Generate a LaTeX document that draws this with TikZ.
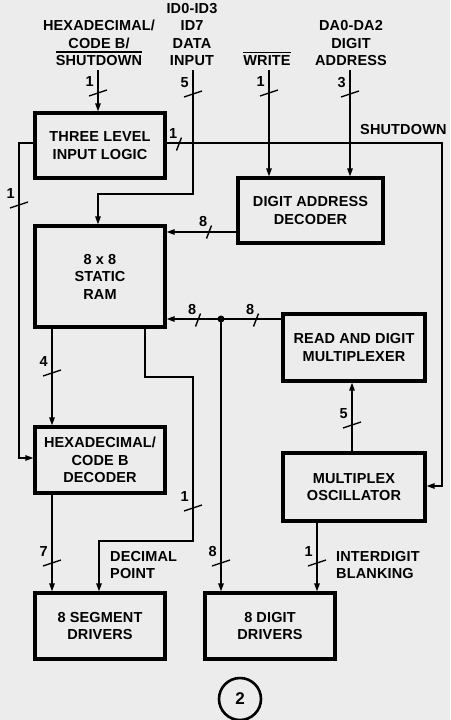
\documentclass[tikz,border=0pt]{standalone}
\usepackage{fontspec}
\newfontfamily\diafont{Liberation Sans}[LetterSpace=1]
\usetikzlibrary{arrows.meta,calc}
\definecolor{bgc}{RGB}{236,236,236}
\newcommand\ovl[1]{\vbox{\hrule height 1.3pt\kern 3pt\hbox{#1}}}
\begin{document}
\begin{tikzpicture}[x=1pt,y=-1pt,
  font=\diafont\bfseries\fontsize{14.5}{17.5}\selectfont,
  blk/.style={draw, line width=3.3pt, align=center, inner sep=0pt},
  lbl/.style={align=center, inner sep=0pt, anchor=south},
  sig/.style={line width=1.4pt, -{Triangle[length=8pt,width=5.5pt]}},
  ln/.style={line width=1.4pt},
  numlbl/.style={inner sep=0pt, anchor=south east},
  vbus/.pic={\draw[ln] (-9,3) -- (9,-3); \node[numlbl] at (-4,-6) {\tikzpictext};},
  hbus/.pic={\draw[ln] (-2.5,6.5) -- (2.5,-6.5); \node[numlbl] at (-1.5,-5.5) {\tikzpictext};},
]
\useasboundingbox (0,0) rectangle (450,720);
\fill[bgc] (0,0) rectangle (450,720);

% blocks
\node[blk, minimum width=130pt, minimum height=65pt] (tl) at (100,145.5) {THREE LEVEL\\INPUT LOGIC};
\node[blk, minimum width=145pt, minimum height=65pt] (dad) at (310.5,210.5) {DIGIT ADDRESS\\DECODER};
\node[blk, minimum width=130pt, minimum height=101pt] (ram) at (100,276.5) {8 x 8\\STATIC\\RAM};
\node[blk, minimum width=142pt, minimum height=67pt] (rdm) at (354,347.5) {READ AND DIGIT\\MULTIPLEXER};
\node[blk, minimum width=130pt, minimum height=66pt] (hex) at (100,460) {HEXADECIMAL/\\CODE B\\DECODER};
\node[blk, minimum width=142pt, minimum height=68pt] (osc) at (354,487) {MULTIPLEX\\OSCILLATOR};
\node[blk, minimum width=130pt, minimum height=66pt] (seg) at (100,626) {8 SEGMENT\\DRIVERS};
\node[blk, minimum width=130pt, minimum height=66pt] (dig) at (270,626) {8 DIGIT\\DRIVERS};

% top labels
\node[lbl] (t1) at (99,66) {HEXADECIMAL/\\CODE B/\\\ovl{SHUTDOWN}};
\node[lbl] (t2) at (192,66) {ID0-ID3\\ID7\\DATA\\INPUT};
\node[lbl] (t3) at (267,66) {\ovl{WRITE}};
\node[lbl] (t4) at (351,66) {DA0-DA2\\DIGIT\\ADDRESS};
\node[inner sep=0pt, anchor=south west] (sdl) at (360,135) {SHUTDOWN};
\node[inner sep=0pt, anchor=south west, align=left] (dpl) at (110,579) {DECIMAL\\POINT};
\node[inner sep=0pt, anchor=south west, align=left] (ibl) at (336,579) {INTERDIGIT\\BLANKING};

% coordinates
\coordinate (in1) at (98,70);
\coordinate (in2) at (193,70);
\coordinate (in3) at (269,70);
\coordinate (in4) at (350,70);
\coordinate (d1) at (193,194);
\coordinate (d2) at (98,194);
\coordinate (s1) at (442,143);
\coordinate (s2) at (442,486);
\coordinate (l1) at (19,143);
\coordinate (l2) at (19,458);
\coordinate (r1) at (200,232);
\coordinate (r2) at (221,319);
\coordinate (c1) at (52,400);
\coordinate (p1) at (145,377);
\coordinate (p2) at (193,377);
\coordinate (p3) at (193,541);
\coordinate (p4) at (99,541);
\coordinate (c2) at (352,420);
\coordinate (c3) at (317,560);

% connectors
\draw[sig] (in1) -- (in1 |- tl.north);
\draw[sig] (in2) -- (d1) -- (d2) -- (d2 |- ram.north);
\draw[sig] (in3) -- (in3 |- dad.north);
\draw[sig] (in4) -- (in4 |- dad.north);
\draw[sig] ([yshift=2.5pt]tl.east) -- (s1) -- (s2) -- (s2 -| osc.east);
\draw[sig] ([yshift=2.5pt]tl.west) -- (l1) -- (l2) -- (l2 -| hex.west);
\draw[sig] (dad.west |- r1) -- (ram.east |- r1);
\draw[sig] (rdm.west |- r2) -- (ram.east |- r2);
\draw[sig] (r2) -- (r2 |- dig.north);
\fill (r2) circle (3.5);
\draw[sig] (ram.south -| c1) -- (hex.north -| c1);
\draw[sig] (hex.south -| c1) -- (seg.north -| c1);
\draw[sig] (ram.south -| p1) -- (p1) -- (p2) -- (p3) -- (p4) -- (p4 |- seg.north);
\draw[sig] (osc.north -| c2) -- (rdm.south -| c2);
\draw[sig] (osc.south -| c3) -- (dig.north -| c3);

% bus width marks
\pic[pic text=1] at (98,93) {vbus};
\pic[pic text=5] at (193,94) {vbus};
\pic[pic text=1] at (269,93) {vbus};
\pic[pic text=3] at (350,94) {vbus};
\pic[pic text=1] at (179,144) {hbus};
\pic[pic text=1] at (19,205) {vbus};
\pic[pic text=8] at (209,232) {hbus};
\pic[pic text=8] at (198,320) {hbus};
\pic[pic text=8] at (256,320) {hbus};
\pic[pic text=4] at (52,373) {vbus};
\pic[pic text=1] at (193,508) {vbus};
\pic[pic text=7] at (52,563) {vbus};
\pic[pic text=8] at (221,563) {vbus};
\pic[pic text=1] at (317,563) {vbus};
\pic[pic text=5] at (352,425) {vbus};

% figure number
\node[circle, draw, line width=2.6pt, minimum size=42pt, inner sep=0pt,
      font=\diafont\bfseries\fontsize{17}{19}\selectfont] (fig) at (240,699) {2};
\end{tikzpicture}
\end{document}
